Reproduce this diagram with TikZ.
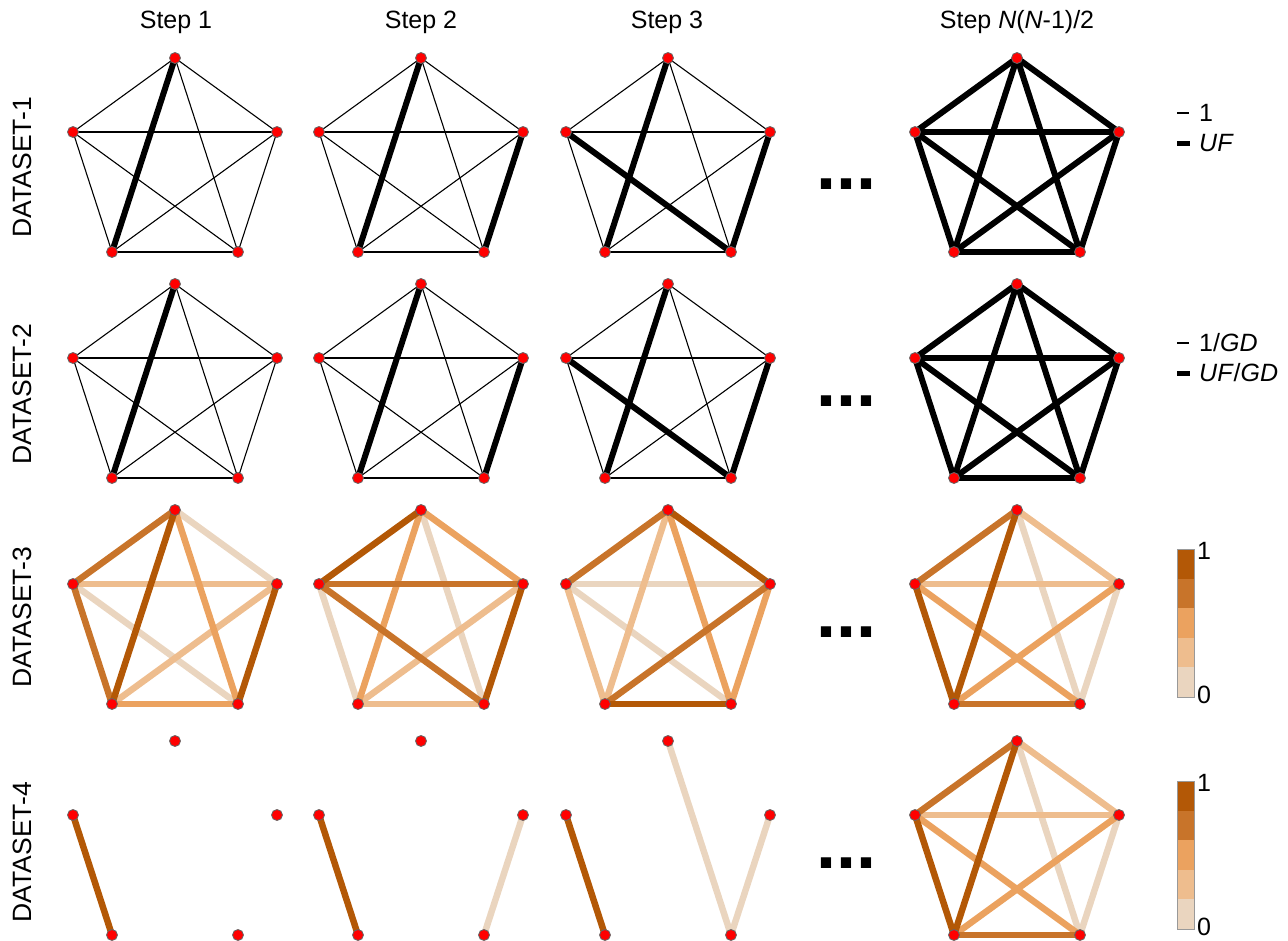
\documentclass[tikz,border=0pt]{standalone}
\usepackage{fontspec}
\setmainfont{Liberation Sans}
\pgfdeclarelayer{bg}
\pgfsetlayers{bg,main}
\definecolor{cA}{HTML}{B35806}
\definecolor{cB}{HTML}{C8742A}
\definecolor{cC}{HTML}{EBA25F}
\definecolor{cD}{HTML}{EEBD8E}
\definecolor{cE}{HTML}{EAD5BF}
\tikzset{
  vtx/.style={circle,fill=red,draw=black!60,line width=0.8pt,minimum size=11pt,inner sep=0pt},
  thinE/.style={line width=1.1pt,black},
  thickE/.style={line width=6pt,black},
  eA/.style={line width=6.5pt,cA},
  eB/.style={line width=6.5pt,cB},
  eC/.style={line width=6.5pt,cC},
  eD/.style={line width=6.5pt,cD},
  eE/.style={line width=6.5pt,cE},
  lbl/.style={font=\fontsize{25}{30}\selectfont,inner sep=0pt},
  rowlbl/.style={font=\fontsize{26.5}{30}\selectfont,inner sep=0pt,rotate=90},
  ell/.style={font=\fontsize{72}{80}\selectfont\bfseries,inner sep=0pt,anchor=base},
}
\newcommand\pentnodes[3]{%
  \node[vtx] (#1T) at (#2,#3-107) {};
  \node[vtx] (#1L) at (#2-102,#3-33) {};
  \node[vtx] (#1R) at (#2+102,#3-33) {};
  \node[vtx] (#1P) at (#2-63,#3+87) {};
  \node[vtx] (#1Q) at (#2+63,#3+87) {};
}
\newcommand\pentedges[2]{%
  \begin{pgfonlayer}{bg}
  \foreach \a/\b/\s in {#2} {\draw[\s] (#1\a.center) -- (#1\b.center);}
  \end{pgfonlayer}
}
\begin{document}
\begin{tikzpicture}[x=1pt,y=-1pt]
\useasboundingbox (0,0) rectangle (1288,940);
% titles
\node[lbl] (s1) at (176,22) {Step 1};
\node[lbl] (s2) at (421,22) {Step 2};
\node[lbl] (s3) at (667,22) {Step 3};
\node[lbl] (s4) at (1017,22) {Step \textit{N}(\textit{N}-1)/2};
\node[rowlbl] (d1) at (22,167) {DATASET-1};
\node[rowlbl] (d2) at (22,394) {DATASET-2};
\node[rowlbl] (d3) at (22,617) {DATASET-3};
\node[rowlbl] (d4) at (22,852) {DATASET-4};
% ---------- row 1 and 2
\foreach \r/\cy in {a/165,b/391} {
  \pentnodes{\r1}{175}{\cy}
  \pentnodes{\r2}{421}{\cy}
  \pentnodes{\r3}{668}{\cy}
  \pentnodes{\r4}{1017}{\cy}
  \pentedges{\r1}{T/L/thinE,T/R/thinE,T/Q/thinE,L/R/thinE,L/P/thinE,L/Q/thinE,R/P/thinE,R/Q/thinE,P/Q/thinE,T/P/thickE}
  \pentedges{\r2}{T/L/thinE,T/R/thinE,T/Q/thinE,L/R/thinE,L/P/thinE,L/Q/thinE,R/P/thinE,P/Q/thinE,T/P/thickE,R/Q/thickE}
  \pentedges{\r3}{T/L/thinE,T/R/thinE,T/Q/thinE,L/R/thinE,L/P/thinE,R/P/thinE,P/Q/thinE,T/P/thickE,R/Q/thickE,L/Q/thickE}
  \pentedges{\r4}{T/L/thickE,T/R/thickE,T/Q/thickE,L/R/thickE,L/P/thickE,L/Q/thickE,R/P/thickE,R/Q/thickE,P/Q/thickE,T/P/thickE}
}
% ---------- row 3
\pentnodes{c1}{175}{617}
\pentnodes{c2}{421}{617}
\pentnodes{c3}{668}{617}
\pentnodes{c4}{1017}{617}
\pentedges{c1}{T/R/eE,L/Q/eE,L/R/eD,R/P/eD,T/Q/eC,P/Q/eC,T/L/eB,L/P/eB,T/P/eA,R/Q/eA}
\pentedges{c2}{T/Q/eE,L/P/eE,R/P/eD,P/Q/eD,T/R/eC,T/P/eC,L/R/eB,L/Q/eB,T/L/eA,R/Q/eA}
\pentedges{c3}{L/R/eE,L/Q/eE,T/P/eD,L/P/eD,T/Q/eC,R/Q/eC,T/L/eB,R/P/eB,T/R/eA,P/Q/eA}
\pentedges{c4}{T/Q/eE,R/Q/eE,T/R/eD,L/R/eD,L/Q/eC,R/P/eC,T/L/eB,P/Q/eB,T/P/eA,L/P/eA}
% ---------- row 4
\pentnodes{e1}{175}{848}
\pentnodes{e2}{421}{848}
\pentnodes{e3}{668}{848}
\pentnodes{e4}{1017}{848}
\pentedges{e1}{L/P/eA}
\pentedges{e2}{R/Q/eE,L/P/eA}
\pentedges{e3}{T/Q/eE,R/Q/eE,L/P/eA}
\pentedges{e4}{T/Q/eE,R/Q/eE,T/R/eD,L/R/eD,L/Q/eC,R/P/eC,T/L/eB,P/Q/eB,T/P/eA,L/P/eA}
% ---------- ellipses
\node[ell] (x1) at (846,189) {...};
\node[ell] (x2) at (846,406) {...};
\node[ell] (x3) at (846,637) {...};
\node[ell] (x4) at (846,868) {...};
% ---------- legends
\draw[line width=1.1pt] (1177,113) -- (1189,113);
\node[lbl,anchor=west] (l1) at (1199,113) {1};
\draw[line width=5pt] (1177,143) -- (1190,143);
\node[lbl,anchor=west] (l2) at (1199,143) {\textit{UF}};
\draw[line width=1.1pt] (1177,343) -- (1189,343);
\node[lbl,anchor=west] (l3) at (1199,343) {1/\textit{GD}};
\draw[line width=5pt] (1177,373) -- (1190,373);
\node[lbl,anchor=west] (l4) at (1199,373) {\textit{UF}/\textit{GD}};
\foreach \top/\h/\n in {549/29.6/3,781/29.6/4} {
  \foreach \c [count=\i from 0] in {cA,cB,cC,cD,cE}
    \fill[\c] (1177,\top+\i*\h) rectangle (1194,\top+\i*\h+\h);
  \draw[black!40,line width=0.8pt] (1177,\top) rectangle (1194,\top+5*\h);
  \node[lbl,anchor=west] (hi\n) at (1197,\top+2) {1};
  \node[lbl,anchor=west] (lo\n) at (1197,\top+5*\h-2) {0};
}
\end{tikzpicture}
\end{document}
